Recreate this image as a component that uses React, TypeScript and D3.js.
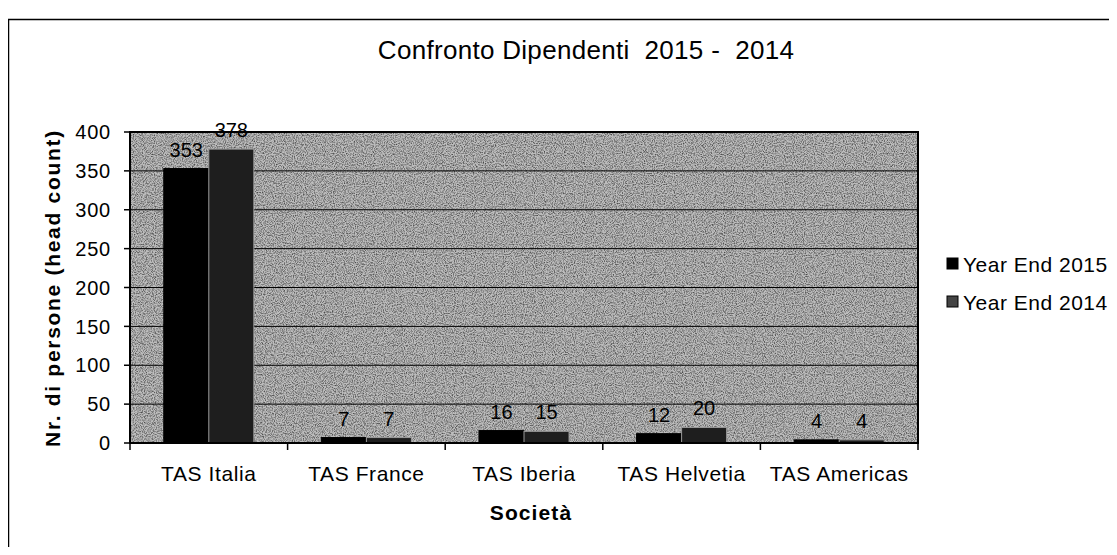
import React from "react";
import * as d3 from "d3";

const categories = ["TAS Italia", "TAS France", "TAS Iberia", "TAS Helvetia", "TAS Americas"];
const series2015 = [353, 7, 16, 12, 4];
const series2014 = [378, 7, 15, 20, 4];
const seriesNames = ["Year End 2015", "Year End 2014"];
const yTicks = [0, 50, 100, 150, 200, 250, 300, 350, 400];

const W = 1117, H = 555;
const M = { left: 130, right: 918, top: 132, bottom: 443 };
const FONT = "'Liberation Sans', Arial, sans-serif";

export default function App() {
  const x = d3.scaleBand<string>().domain(categories).range([M.left, M.right]).paddingInner(0).paddingOuter(0);
  const y = d3.scaleLinear().domain([0, 400]).range([M.bottom, M.top]);
  const bw = x.bandwidth() / 3.5;
  const series = [series2015, series2014];
  const fills = ["#000000", "#1e1e1e"];
  const strokes = ["#000000", "#9a9a9a"];

  return (
    <div style={{ margin: -8 }}>
      <svg width={W} height={H} style={{ display: "block", background: "#fff" }} fontFamily={FONT}>
        <defs>
          <filter id="noise" x="0" y="0" width="100%" height="100%">
            <feTurbulence type="fractalNoise" baseFrequency="0.9" numOctaves="2" seed="3" result="t" />
            <feColorMatrix type="matrix" values="0 0 0 0 0  0 0 0 0 0  0 0 0 0 0  0 0 0 -2.2 1.35" result="n" />
            <feComposite in="n" in2="SourceGraphic" operator="in" />
          </filter>
        </defs>
        {/* outer frame */}
        <rect x={8.5} y={19.5} width={W + 20} height={H + 20} fill="none" stroke="#000" strokeWidth={1.5} />
        {/* title */}
        <text x={586} y={59} textAnchor="middle" fontSize={26} letterSpacing={0.3} xmlSpace="preserve">
          Confronto Dipendenti  2015 -  2014
        </text>
        {/* plot area */}
        <rect x={M.left} y={M.top} width={M.right - M.left} height={M.bottom - M.top} fill="#bdbdbd" />
        <rect x={M.left} y={M.top} width={M.right - M.left} height={M.bottom - M.top} fill="#000" filter="url(#noise)" opacity={0.6} />
        {yTicks.filter(t => t > 0).map(t => (
          <line key={t} x1={M.left} x2={M.right} y1={y(t)} y2={y(t)} stroke="#000" strokeWidth={1} />
        ))}
        <rect x={M.left} y={M.top} width={M.right - M.left} height={M.bottom - M.top} fill="none" stroke="#000" strokeWidth={2} />
        {/* bars */}
        {categories.map((c, i) =>
          series.map((s, k) => {
            const bx = (x(c) as number) + bw * 0.75 + k * bw;
            return (
              <rect key={c + k} x={bx} y={y(s[i])} width={bw} height={M.bottom - y(s[i])}
                fill={fills[k]} stroke={strokes[k]} strokeWidth={1} />
            );
          })
        )}
        {/* data labels */}
        {categories.map((c, i) =>
          series.map((s, k) => {
            const bx = (x(c) as number) + bw * 0.75 + k * bw + bw / 2;
            return (
              <text key={"l" + c + k} x={bx} y={y(s[i]) - 12} textAnchor="middle" fontSize={20} fill="#000">
                {s[i]}
              </text>
            );
          })
        )}
        {/* y axis */}
        <line x1={M.left} x2={M.left} y1={M.top} y2={M.bottom} stroke="#000" strokeWidth={2} />
        {yTicks.map(t => (
          <g key={"yt" + t}>
            <line x1={M.left - 6} x2={M.left} y1={y(t)} y2={y(t)} stroke="#000" strokeWidth={1.5} />
            <text x={111} y={y(t)} dy="0.36em" textAnchor="end" fontSize={20} letterSpacing={0.8}>{t}</text>
          </g>
        ))}
        {/* x axis */}
        <line x1={M.left} x2={M.right} y1={M.bottom} y2={M.bottom} stroke="#000" strokeWidth={2} />
        {[...categories.map(c => x(c) as number), M.right].map((p, i) => (
          <line key={"xt" + i} x1={p} x2={p} y1={M.bottom} y2={M.bottom + 7} stroke="#000" strokeWidth={1.5} />
        ))}
        {categories.map(c => (
          <text key={"xl" + c} x={(x(c) as number) + x.bandwidth() / 2} y={481} textAnchor="middle" fontSize={21} letterSpacing={0.6}>
            {c}
          </text>
        ))}
        {/* axis titles */}
        <text x={531} y={520} textAnchor="middle" fontSize={21} fontWeight="bold" letterSpacing={1.1}>Società</text>
        <text transform={`translate(60,${288}) rotate(-90)`} textAnchor="middle" fontSize={21} fontWeight="bold" letterSpacing={1.7}>
          Nr. di persone (head count)
        </text>
        {/* legend */}
        {seriesNames.map((n, k) => (
          <g key={n} transform={`translate(947,${264 + k * 38})`}>
            <rect x={0} y={-6} width={11} height={11} fill={k === 1 ? "#444" : fills[k]} stroke="#000" />
            <text x={16} y={0} dy="0.36em" fontSize={21} letterSpacing={0.5}>{n}</text>
          </g>
        ))}
      </svg>
    </div>
  );
}
